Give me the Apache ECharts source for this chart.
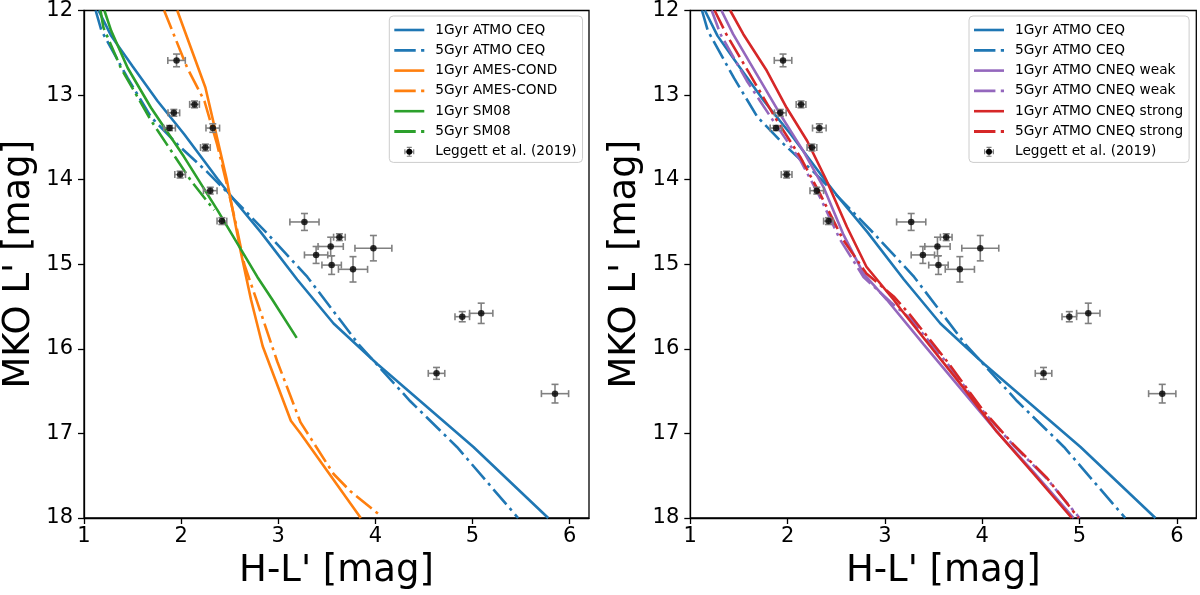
<!DOCTYPE html>
<html>
<head>
<meta charset="utf-8">
<script src="https://cdn.jsdelivr.net/npm/echarts@6/dist/echarts.min.js"></script>
<style>
html,body{margin:0;padding:0;background:#fff;}
#chart{width:1200px;height:595px;}
</style>
</head>
<body>
<div id="chart"></div>
<script>
// ---------- data ----------
const xTicks = [1, 2, 3, 4, 5, 6];
const yTicks = [12, 13, 14, 15, 16, 17, 18];
const xLabel = "H-L' [mag]";
const yLabel = "MKO L' [mag]";

// Leggett et al. (2019) points: H-L', L', errors
const obsHL   = [1.953, 2.138, 1.925, 1.881, 2.326, 2.25, 1.99, 2.30, 2.42, 3.27, 3.63, 3.54, 3.39, 3.55, 3.98, 3.77, 4.895, 5.09, 4.63, 5.85];
const obsL    = [12.59, 13.11, 13.21, 13.39, 13.39, 13.62, 13.94, 14.13, 14.49, 14.50, 14.68, 14.79, 14.89, 15.01, 14.81, 15.06, 15.62, 15.58, 16.29, 16.53];
const obsHLerr= [0.09, 0.05, 0.06, 0.06, 0.07, 0.05, 0.055, 0.07, 0.05, 0.15, 0.06, 0.13, 0.12, 0.10, 0.19, 0.15, 0.075, 0.12, 0.085, 0.14];
const obsLerr = [0.075, 0.04, 0.04, 0.03, 0.05, 0.04, 0.04, 0.04, 0.04, 0.10, 0.04, 0.11, 0.10, 0.11, 0.15, 0.15, 0.06, 0.12, 0.07, 0.11];

// model isochrones [H-L', L']
const atmoCEQ1  = [[1.15,12.0],[1.28,12.30],[1.50,12.66],[1.757,13.07],[2.03,13.46],[2.374,13.99],[2.545,14.24],[2.82,14.62],[3.195,15.18],[3.57,15.70],[4.02,16.18],[5.01,17.16],[5.78,18.0]];
const atmoCEQ5  = [[1.12,12.0],[1.18,12.24],[1.45,12.80],[1.69,13.26],[1.96,13.58],[2.27,13.91],[2.56,14.25],[2.89,14.64],[3.30,15.15],[3.83,15.95],[4.36,16.62],[4.84,17.16],[5.47,18.0]];
const amesCond1 = [[1.96,12.0],[2.25,12.91],[2.47,14.0],[2.61,14.83],[2.72,15.42],[2.84,15.97],[3.13,16.85],[3.23,17.0],[3.85,18.0]];
const amesCond5 = [[1.825,12.0],[2.06,12.67],[2.24,13.07],[2.37,13.58],[2.47,14.05],[2.56,14.5],[2.65,15.0],[2.77,15.40],[2.99,16.15],[3.23,16.87],[3.57,17.48],[3.74,17.68],[4.05,17.97]];
const sm08_1    = [[1.21,12.0],[1.28,12.24],[1.45,12.68],[1.69,13.15],[2.03,13.73],[2.374,14.36],[2.785,15.15],[2.94,15.42],[3.19,15.87]];
const sm08_5    = [[1.17,12.0],[1.20,12.2],[1.38,12.68],[1.69,13.30],[2.10,14.01],[2.34,14.36]];
const cneqWeak1   = [[1.32,12.0],[1.44,12.28],[1.68,12.75],[1.92,13.22],[2.16,13.66],[2.37,14.09],[2.57,14.64],[2.78,15.11],[3.02,15.42],[3.40,15.95],[3.80,16.5],[4.15,16.98],[4.53,17.46],[4.94,18.0]];
const cneqWeak5   = [[1.22,12.0],[1.31,12.28],[1.58,12.83],[1.85,13.30],[2.13,13.77],[2.33,14.20],[2.54,14.71],[2.78,15.15],[3.06,15.45],[3.26,15.64],[3.64,16.17],[4.01,16.74],[4.32,17.14],[4.66,17.53],[5.00,18.0]];
const cneqStrong1 = [[1.41,12.0],[1.545,12.28],[1.785,12.71],[1.99,13.15],[2.20,13.54],[2.40,14.01],[2.61,14.56],[2.81,15.03],[3.09,15.42],[3.155,15.52],[3.80,16.45],[4.15,16.98],[4.53,17.48],[4.92,18.0]];
const cneqStrong5 = [[1.25,12.0],[1.37,12.28],[1.61,12.75],[1.89,13.30],[2.13,13.73],[2.33,14.16],[2.57,14.71],[2.81,15.11],[3.09,15.38],[3.26,15.60],[3.64,16.15],[4.01,16.73],[4.32,17.13],[4.66,17.52],[4.99,18.0]];

const leftNames  = ['1Gyr ATMO CEQ','5Gyr ATMO CEQ','1Gyr AMES-COND','5Gyr AMES-COND','1Gyr SM08','5Gyr SM08','Leggett et al. (2019)'];
const rightNames = ['1Gyr ATMO CEQ','5Gyr ATMO CEQ','1Gyr ATMO CNEQ weak','5Gyr ATMO CNEQ weak','1Gyr ATMO CNEQ strong','5Gyr ATMO CNEQ strong','Leggett et al. (2019)'];

// ---------- chart ----------
const BLUE='#1f77b4', ORANGE='#ff7f0e', GREEN='#2ca02c', RED='#d62728', PURPLE='#9467bd';
const FONT = 'DejaVu Sans';
const DASHDOT = [20, 5, 3, 5];
const LW = 2.6;
const ICON_SOLID = 'path://M0,0H30V2.6H0Z';
const ICON_DASHDOT = 'path://M0,0H20V2.6H0Z M25,0H28V2.6H25Z';
const ICON_ERR = 'path://M0,5.3H12V6.7H0Z M5.3,0H6.7V12H5.3Z M0,3H1.4V9H0Z M10.6,3H12V9H10.6Z M3,0H9V1.4H3Z M3,10.6H9V12H3Z';

const obsData = obsHL.map((v, i) => [v, obsL[i], obsHLerr[i], obsLerr[i]]);
const obsPts = obsHL.map((v, i) => [v, obsL[i]]);

const chart = echarts.init(document.getElementById('chart'), null, {renderer: 'canvas'});

function grid(left) {
  return {left: left, top: 9.3, width: 506, height: 510, show: true, borderColor: '#000', borderWidth: 1.3, backgroundColor: 'transparent'};
}
function xAxis(gi) {
  return {
    gridIndex: gi, type: 'value', min: 1, max: 6.2, interval: 1,
    axisLine: {show: true, onZero: false, lineStyle: {color: '#000', width: 1.3}},
    axisTick: {show: true, inside: false, length: 6, lineStyle: {color: '#000', width: 1.3}, customValues: xTicks},
    axisLabel: {show: true, margin: 8, fontSize: 21, color: '#000', fontFamily: FONT, customValues: xTicks},
    splitLine: {show: false},
    name: xLabel, nameLocation: 'middle', nameGap: 35,
    nameTextStyle: {fontSize: 37, color: '#000', fontFamily: FONT}
  };
}
function yAxis(gi) {
  return {
    gridIndex: gi, type: 'value', min: 12, max: 18, interval: 1, inverse: true,
    axisLine: {show: true, onZero: false, lineStyle: {color: '#000', width: 1.3}},
    axisTick: {show: true, inside: false, length: 6, lineStyle: {color: '#000', width: 1.3}, customValues: yTicks},
    axisLabel: {show: true, margin: 11, fontSize: 21, color: '#000', fontFamily: FONT, customValues: yTicks},
    splitLine: {show: false},
    name: yLabel, nameLocation: 'middle', nameGap: 46, nameRotate: 90,
    nameTextStyle: {fontSize: 37, color: '#000', fontFamily: FONT}
  };
}
function line(name, data, color, dashed, gi) {
  return {
    type: 'line', name: name, data: data, xAxisIndex: gi, yAxisIndex: gi,
    showSymbol: false, symbol: 'none', smooth: false, clip: true,
    itemStyle: {color: color},
    lineStyle: {color: color, width: LW, type: dashed ? DASHDOT : 'solid', cap: 'butt'},
    emphasis: {disabled: true}, z: 2
  };
}
function errSeries(gi) {
  return {
    type: 'custom', name: 'Leggett et al. (2019)', xAxisIndex: gi, yAxisIndex: gi,
    data: obsData, encode: {x: 0, y: 1}, itemStyle: {color: '#808080'}, z: 3,
    renderItem: function (params, api) {
      const x = api.value(0), y = api.value(1), ex = api.value(2), ey = api.value(3);
      const l = api.coord([x - ex, y]), r = api.coord([x + ex, y]);
      const t = api.coord([x, y - ey]), b = api.coord([x, y + ey]);
      const c = 3.5;
      const st = {stroke: '#808080', lineWidth: 1.6};
      const seg = (x1, y1, x2, y2) => ({type: 'line', shape: {x1, y1, x2, y2}, style: st});
      return {type: 'group', children: [
        seg(l[0], l[1], r[0], r[1]),
        seg(t[0], t[1], b[0], b[1]),
        seg(l[0], l[1] - c, l[0], l[1] + c),
        seg(r[0], r[1] - c, r[0], r[1] + c),
        seg(t[0] - c, t[1], t[0] + c, t[1]),
        seg(b[0] - c, b[1], b[0] + c, b[1])
      ]};
    }
  };
}
function dotSeries(gi) {
  return {
    type: 'scatter', name: 'Leggett et al. (2019)', xAxisIndex: gi, yAxisIndex: gi,
    data: obsPts, symbol: 'circle', symbolSize: 6.5, itemStyle: {color: '#000'}, z: 4,
    emphasis: {disabled: true}
  };
}
function legendData(names, dashFlags) {
  return names.map((n, i) => {
    if (n === 'Leggett et al. (2019)') return {name: n, icon: ICON_ERR};
    return {name: n, icon: dashFlags[i] ? ICON_DASHDOT : ICON_SOLID};
  });
}
function legend(left, names) {
  return {
    orient: 'vertical', left: left, top: 16,
    data: legendData(names, [false, true, false, true, false, true]),
    itemWidth: 30, itemHeight: 10, itemGap: 6.3,
    padding: [7, 6, 3.6, 5],
    backgroundColor: 'rgba(255,255,255,0.8)', borderColor: '#cccccc', borderWidth: 1, borderRadius: 4,
    textStyle: {fontSize: 13.7, color: '#000', fontFamily: FONT, lineHeight: 14, padding: [0, 0, 0, 6]},
    selectedMode: false, z: 6
  };
}
function dotLegend(left, top) {
  return {
    orient: 'vertical', left: left, top: top, data: [{name: 'Leggett et al. (2019)', icon: 'circle'}],
    itemWidth: 6, itemHeight: 6, padding: 0, formatter: () => '',
    itemStyle: {color: '#000'},
    textStyle: {fontSize: 1, lineHeight: 1}, selectedMode: false, z: 7
  };
}

const series = [
  line('1Gyr ATMO CEQ', atmoCEQ1, BLUE, false, 0),
  line('5Gyr ATMO CEQ', atmoCEQ5, BLUE, true, 0),
  line('1Gyr AMES-COND', amesCond1, ORANGE, false, 0),
  line('5Gyr AMES-COND', amesCond5, ORANGE, true, 0),
  line('1Gyr SM08', sm08_1, GREEN, false, 0),
  line('5Gyr SM08', sm08_5, GREEN, true, 0),
  line('1Gyr ATMO CEQ', atmoCEQ1, BLUE, false, 1),
  line('5Gyr ATMO CEQ', atmoCEQ5, BLUE, true, 1),
  line('1Gyr ATMO CNEQ weak', cneqWeak1, PURPLE, false, 1),
  line('5Gyr ATMO CNEQ weak', cneqWeak5, PURPLE, true, 1),
  line('1Gyr ATMO CNEQ strong', cneqStrong1, RED, false, 1),
  line('5Gyr ATMO CNEQ strong', cneqStrong5, RED, true, 1),
  errSeries(0), errSeries(1),
  dotSeries(0), dotSeries(1)
];

chart.setOption({
  animation: false,
  backgroundColor: '#fff',
  textStyle: {fontFamily: FONT},
  grid: [grid(83), grid(690.3)],
  xAxis: [xAxis(0), xAxis(1)],
  yAxis: [yAxis(0), yAxis(1)],
  legend: [
    legend(389.3, leftNames),
    legend(969, rightNames),
    dotLegend(406.3, 148.7),
    dotLegend(986, 148.7)
  ],
  series: series
});
</script>
</body>
</html>
